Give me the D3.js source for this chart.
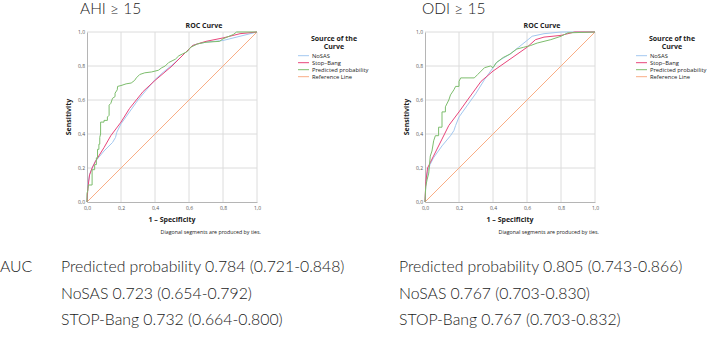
<!DOCTYPE html>
<html>
<head>
<meta charset="utf-8">
<script src="https://cdn.jsdelivr.net/npm/d3@7"></script>
<style>
  body { margin: 0; background: #fff; }
  svg { display: block; }
  .big { font-family: Lato, "Open Sans", sans-serif; font-weight: 300; fill: #1a1a1a; }
  .spss { font-family: "Open Sans", "DejaVu Sans", sans-serif; fill: #222; }
</style>
</head>
<body>
<div id="chart"></div>
<script>
// tick values and labels
var ticks = [0, 0.2, 0.4, 0.6, 0.8, 1.0];
var tickLabels = ["0,0", "0,2", "0,4", "0,6", "0,8", "1,0"];
var seriesNames = ["NoSAS", "Stop\u2013Bang", "Predicted probability", "Reference Line"];
var seriesColors = ["#a3c8f0", "#e8457b", "#7dbd6d", "#f9ad85"];

// AHI >= 15 curves, [1 - specificity, sensitivity]
var ahiNoSAS = [[0,0],[0.005,0.1],[0.015,0.16],[0.03,0.2],[0.05,0.24],[0.1,0.3],[0.15,0.35],[0.168,0.38],[0.175,0.41],[0.2,0.46],[0.25,0.53],[0.3,0.6],[0.35,0.66],[0.4,0.72],[0.45,0.765],[0.5,0.805],[0.55,0.85],[0.6,0.9],[0.62,0.92],[0.65,0.93],[0.7,0.94],[0.8,0.95],[0.9,0.975],[1,1]];
var ahiStopBang = [[0,0],[0.005,0.08],[0.015,0.16],[0.03,0.2],[0.05,0.24],[0.1,0.32],[0.14,0.39],[0.2,0.47],[0.25,0.55],[0.33,0.65],[0.4,0.715],[0.5,0.8],[0.6,0.9],[0.62,0.92],[0.65,0.93],[0.7,0.945],[0.8,0.965],[0.9,0.99],[1,1]];
var ahiPred = [[0,0],[0,0.05],[0.005,0.07],[0.008,0.1],[0.03,0.1],[0.03,0.19],[0.045,0.19],[0.045,0.22],[0.055,0.22],[0.055,0.26],[0.062,0.26],[0.062,0.31],[0.07,0.31],[0.07,0.34],[0.075,0.34],[0.075,0.38],[0.08,0.4],[0.08,0.47],[0.1,0.47],[0.1,0.48],[0.12,0.48],[0.12,0.5],[0.13,0.51],[0.13,0.57],[0.14,0.58],[0.15,0.61],[0.165,0.62],[0.165,0.64],[0.178,0.66],[0.18,0.68],[0.2,0.685],[0.23,0.695],[0.26,0.7],[0.28,0.715],[0.29,0.73],[0.31,0.75],[0.34,0.76],[0.38,0.765],[0.42,0.775],[0.44,0.79],[0.46,0.8],[0.48,0.82],[0.5,0.83],[0.52,0.84],[0.54,0.86],[0.56,0.87],[0.59,0.885],[0.61,0.91],[0.65,0.93],[0.7,0.94],[0.78,0.945],[0.8,0.96],[0.86,0.985],[0.88,1],[1,1]];

// ODI >= 15 curves
var odiNoSAS = [[0,0],[0.005,0.1],[0.015,0.18],[0.03,0.22],[0.05,0.26],[0.1,0.33],[0.15,0.39],[0.17,0.42],[0.18,0.45],[0.2,0.5],[0.25,0.57],[0.3,0.64],[0.35,0.72],[0.4,0.79],[0.42,0.82],[0.45,0.84],[0.5,0.87],[0.55,0.91],[0.6,0.95],[0.63,0.975],[0.7,0.99],[0.8,1],[1,1]];
var odiStopBang = [[0,0],[0.005,0.12],[0.015,0.2],[0.03,0.23],[0.05,0.27],[0.1,0.37],[0.14,0.45],[0.2,0.53],[0.25,0.6],[0.33,0.71],[0.4,0.77],[0.5,0.84],[0.6,0.91],[0.65,0.955],[0.7,0.97],[0.8,0.98],[0.88,1],[1,1]];
var odiPred = [[0,0],[0.004,0.09],[0.012,0.13],[0.022,0.17],[0.031,0.27],[0.041,0.3],[0.051,0.36],[0.061,0.39],[0.08,0.39],[0.08,0.44],[0.1,0.44],[0.1,0.53],[0.12,0.53],[0.12,0.56],[0.14,0.6],[0.15,0.63],[0.17,0.66],[0.18,0.68],[0.2,0.68],[0.2,0.71],[0.21,0.73],[0.29,0.73],[0.31,0.75],[0.33,0.77],[0.35,0.79],[0.385,0.8],[0.4,0.79],[0.42,0.82],[0.46,0.85],[0.5,0.87],[0.54,0.9],[0.58,0.91],[0.62,0.92],[0.66,0.935],[0.74,0.955],[0.8,0.975],[0.84,0.995],[1,1]];

var refLine = [[0,0],[1,1]];

var ahiTitle = "AHI \u2265 15";
var odiTitle = "ODI \u2265 15";
var ahiAuc = ["Predicted probability 0.784 (0.721-0.848)", "NoSAS 0.723 (0.654-0.792)", "STOP-Bang 0.732 (0.664-0.800)"];
var odiAuc = ["Predicted probability 0.805 (0.743-0.866)", "NoSAS 0.767 (0.703-0.830)", "STOP-Bang 0.767 (0.703-0.832)"];

var svg = d3.select('#chart')
    .append('svg')
    .attr('width', 708)
    .attr('height', 337);

var panels = [
    { left: 87, title: ahiTitle, titleX: 80, series: [ahiNoSAS, ahiStopBang, ahiPred, refLine], auc: ahiAuc, aucX: 61 },
    { left: 425, title: odiTitle, titleX: 422, series: [odiNoSAS, odiStopBang, odiPred, refLine], auc: odiAuc, aucX: 399 }
];

var size = 170, plotTop = 32;

panels.forEach(function (p, pi) {
    var g = svg.append('g').attr('transform', 'translate(' + p.left + ',' + plotTop + ')');

    var x = d3.scaleLinear().domain([0, 1]).range([0, size]);
    var y = d3.scaleLinear().domain([0, 1]).range([size, 0]);

    // grid
    g.selectAll('.vgrid')
        .data(ticks.slice(1))
        .enter()
        .append('line')
        .attr('x1', d => x(d)).attr('x2', d => x(d))
        .attr('y1', 0).attr('y2', size)
        .attr('stroke', '#dcdcdc')
        .attr('stroke-width', 1);
    g.selectAll('.hgrid')
        .data(ticks.slice(1))
        .enter()
        .append('line')
        .attr('x1', 0).attr('x2', size)
        .attr('y1', d => y(d)).attr('y2', d => y(d))
        .attr('stroke', '#dcdcdc')
        .attr('stroke-width', 1);

    // axes
    var xAxis = d3.axisBottom(x).tickValues(ticks).tickFormat((d, i) => tickLabels[i]).tickSize(0).tickPadding(4);
    var yAxis = d3.axisLeft(y).tickValues(ticks).tickFormat((d, i) => tickLabels[i]).tickSize(0).tickPadding(2);
    [g.append('g').attr('transform', 'translate(0,' + size + ')').call(xAxis),
     g.append('g').call(yAxis)].forEach(function (a) {
        a.select('.domain').attr('stroke', '#b5b5b5').attr('stroke-width', 1);
        a.selectAll('text')
            .attr('font-family', '"Open Sans", sans-serif')
            .attr('font-size', 5)
            .attr('fill', '#555');
    });

    // curves
    var line = d3.line().x(d => x(d[0])).y(d => y(d[1]));
    var order = [3, 0, 1, 2];
    order.forEach(function (i) {
        g.append('path')
            .datum(p.series[i])
            .attr('d', line)
            .attr('fill', 'none')
            .attr('stroke', seriesColors[i])
            .attr('stroke-width', 1)
            .attr('stroke-linejoin', 'round');
    });

    // chart labels
    g.append('text').attr('class', 'spss')
        .attr('x', 117).attr('y', -4)
        .attr('text-anchor', 'middle')
        .attr('font-size', 7).attr('font-weight', 700)
        .text('ROC Curve');

    g.append('text').attr('class', 'spss')
        .attr('transform', 'translate(-16.5,' + (size / 2) + ') rotate(-90)')
        .attr('text-anchor', 'middle')
        .attr('font-size', 7).attr('font-weight', 700)
        .text('Sensitivity');

    g.append('text').attr('class', 'spss')
        .attr('x', size / 2).attr('y', size + 20)
        .attr('text-anchor', 'middle')
        .attr('font-size', 7).attr('font-weight', 700)
        .text('1 \u2013 Specificity');

    g.append('text').attr('class', 'spss')
        .attr('x', 174).attr('y', size + 32)
        .attr('text-anchor', 'end')
        .attr('font-size', 5.3)
        .text('Diagonal segments are produced by ties.');

    // legend
    g.append('text').attr('class', 'spss')
        .attr('x', 247).attr('y', 9)
        .attr('text-anchor', 'middle')
        .attr('font-size', 7).attr('font-weight', 700)
        .text('Source of the');
    g.append('text').attr('class', 'spss')
        .attr('x', 247).attr('y', 16.5)
        .attr('text-anchor', 'middle')
        .attr('font-size', 7).attr('font-weight', 700)
        .text('Curve');

    var leg = g.selectAll('.leg')
        .data(seriesNames)
        .enter()
        .append('g')
        .attr('transform', (d, i) => 'translate(211,' + (23.7 + i * 7) + ')');
    leg.append('line')
        .attr('x1', 0).attr('x2', 11)
        .attr('stroke', (d, i) => seriesColors[i])
        .attr('stroke-width', 1);
    leg.append('text').attr('class', 'spss')
        .attr('x', 14).attr('dy', '0.35em')
        .attr('font-size', 5.8)
        .text(d => d);

    // panel heading
    svg.append('text').attr('class', 'big')
        .attr('x', p.titleX).attr('y', 14)
        .attr('font-size', 15.5)
        .text(p.title);

    // AUC rows
    svg.selectAll('.auc' + pi)
        .data(p.auc)
        .enter()
        .append('text')
        .attr('class', 'big auc' + pi)
        .attr('x', p.aucX)
        .attr('y', (d, i) => 272 + i * 26.5)
        .attr('font-size', 15.8)
        .text(d => d);
});

svg.append('text').attr('class', 'big')
    .attr('x', 0).attr('y', 272)
    .attr('font-size', 15.8)
    .text('AUC');
</script>
</body>
</html>
